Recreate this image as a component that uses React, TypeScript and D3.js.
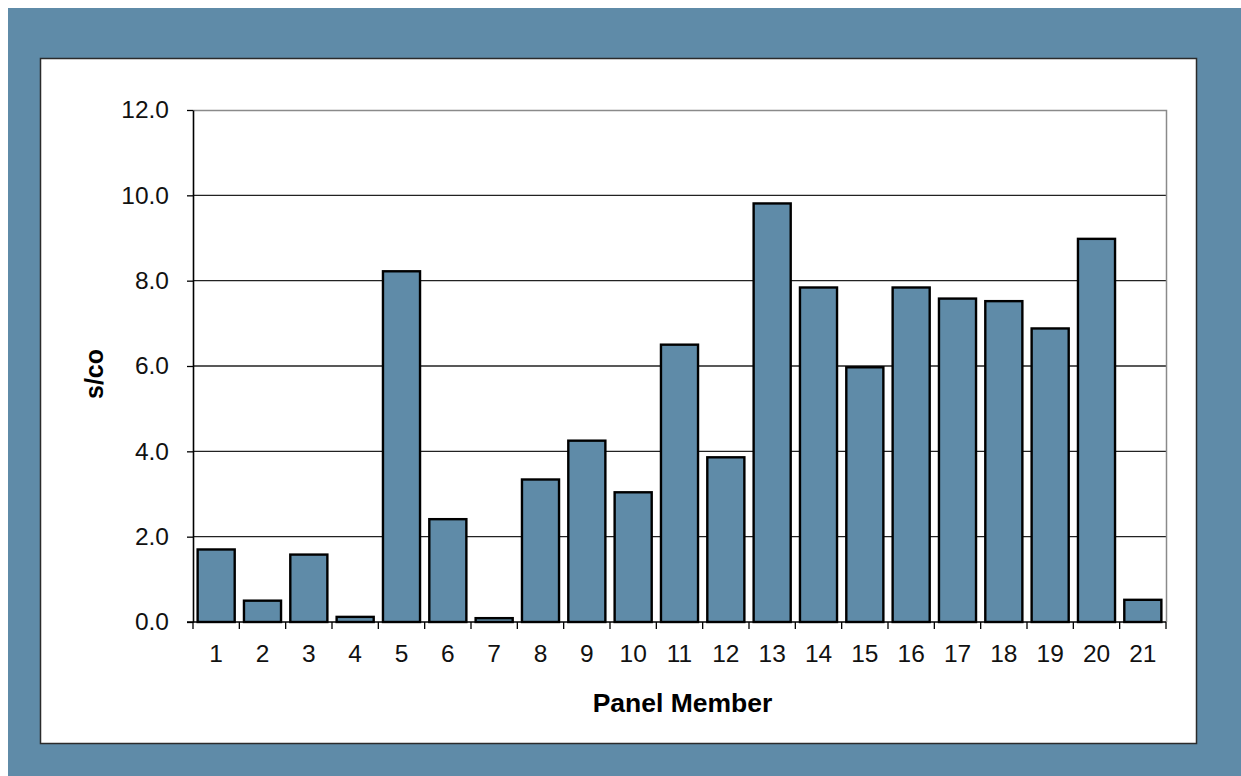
import { useEffect, useRef } from 'react';
import * as d3 from 'd3';

const members = [
  '1', '2', '3', '4', '5', '6', '7', '8', '9', '10', '11',
  '12', '13', '14', '15', '16', '17', '18', '19', '20', '21',
];
const sco = [
  1.7, 0.5, 1.58, 0.12, 8.22, 2.41, 0.09, 3.34, 4.25, 3.04, 6.5,
  3.86, 9.81, 7.84, 5.97, 7.84, 7.58, 7.52, 6.88, 8.98, 0.52,
];
const yTicks = [0, 2, 4, 6, 8, 10, 12];

const FONT = '"Liberation Sans", Arial, sans-serif';
const BLUE = '#5F8BA8';

export default function App() {
  const svgRef = useRef<SVGSVGElement>(null);

  useEffect(() => {
    if (!svgRef.current) return;
    const svg = d3.select(svgRef.current);
    svg.selectAll('*').remove();

    // Outer frame and white panel
    svg.append('rect')
      .attr('x', 8).attr('y', 8)
      .attr('width', 1233).attr('height', 768)
      .attr('fill', BLUE);
    svg.append('rect')
      .attr('x', 40.5).attr('y', 58.5)
      .attr('width', 1156).attr('height', 685)
      .attr('fill', '#fff')
      .attr('stroke', '#2b2b2b')
      .attr('stroke-width', 1.5);

    // Plot area
    const left = 193, right = 1166, top = 110, bottom = 622;

    const x = d3.scaleBand<string>()
      .domain(members)
      .range([left, right])
      .paddingInner(0.2)
      .paddingOuter(0.1);

    const y = d3.scaleLinear().domain([0, 12]).range([bottom, top]);

    // Grid lines
    svg.append('g')
      .selectAll('line')
      .data(yTicks.filter((t) => t > 0 && t < 12))
      .join('line')
      .attr('x1', left).attr('x2', right)
      .attr('y1', (d) => y(d)).attr('y2', (d) => y(d))
      .attr('stroke', '#222')
      .attr('stroke-width', 1.3);

    // Top and right border of plot area
    svg.append('path')
      .attr('d', `M${left},${top + 0.5}H${right + 0.5}V${bottom}`)
      .attr('fill', 'none')
      .attr('stroke', '#8a8a8a')
      .attr('stroke-width', 1.5);

    // Bars
    svg.append('g')
      .selectAll('rect')
      .data(members)
      .join('rect')
      .attr('x', (d) => x(d)!)
      .attr('y', (_, i) => y(sco[i]))
      .attr('width', x.bandwidth())
      .attr('height', (_, i) => y(0) - y(sco[i]))
      .attr('fill', BLUE)
      .attr('stroke', '#000')
      .attr('stroke-width', 2.4);

    // Y axis
    const yAxis = svg.append('g')
      .attr('transform', `translate(${left},0)`)
      .call(
        d3.axisLeft(y)
          .tickValues(yTicks)
          .tickSize(6)
          .tickSizeOuter(0)
          .tickPadding(18)
          .tickFormat((d) => d3.format('.1f')(d as number))
      );
    yAxis.select('.domain').attr('stroke', '#000').attr('stroke-width', 1.6);
    yAxis.selectAll('.tick line').attr('stroke', '#000').attr('stroke-width', 1.3);
    yAxis.selectAll('.tick text')
      .attr('font-family', FONT)
      .attr('font-size', 24.5)
      .attr('fill', '#111');

    // X axis line and boundary ticks
    svg.append('line')
      .attr('x1', left - 6).attr('x2', right)
      .attr('y1', bottom).attr('y2', bottom)
      .attr('stroke', '#000')
      .attr('stroke-width', 1.6);

    const step = x.step();
    const bounds = d3.range(members.length + 1).map((i) => left + i * step);
    svg.append('g')
      .selectAll('line')
      .data(bounds)
      .join('line')
      .attr('x1', (d) => d).attr('x2', (d) => d)
      .attr('y1', bottom).attr('y2', bottom + 7)
      .attr('stroke', '#000')
      .attr('stroke-width', 1.3);

    const xAxis = svg.append('g')
      .attr('transform', `translate(0,${bottom})`)
      .call(d3.axisBottom(x).tickSize(0).tickPadding(23));
    xAxis.select('.domain').remove();
    xAxis.selectAll('.tick text')
      .attr('font-family', FONT)
      .attr('font-size', 24.5)
      .attr('fill', '#111');

    // Axis titles
    svg.append('text')
      .attr('x', (left + right) / 2 + 3)
      .attr('y', 712)
      .attr('text-anchor', 'middle')
      .attr('font-family', FONT)
      .attr('font-size', 26.5)
      .attr('font-weight', 'bold')
      .text('Panel Member');

    svg.append('text')
      .attr('transform', 'translate(103,374) rotate(-90)')
      .attr('text-anchor', 'middle')
      .attr('font-family', FONT)
      .attr('font-size', 25)
      .attr('font-weight', 'bold')
      .text('s/co');
  }, []);

  return (
    <>
      <style>{'body{margin:0;overflow:hidden}'}</style>
      <svg ref={svgRef} width={1241} height={776} style={{ display: 'block' }} />
    </>
  );
}
